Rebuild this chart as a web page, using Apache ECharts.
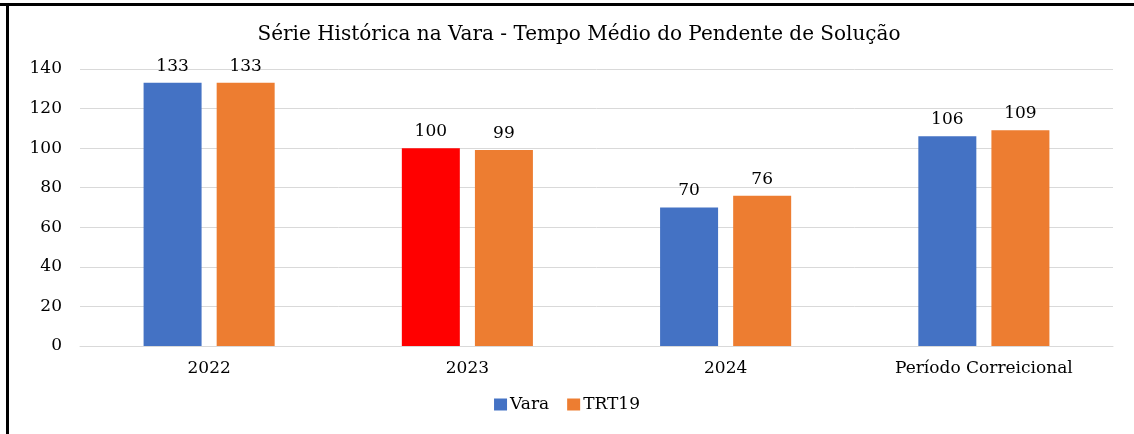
<!DOCTYPE html>
<html>
<head>
<meta charset="utf-8">
<script src="https://cdn.jsdelivr.net/npm/echarts@6/dist/echarts.min.js"></script>
<style>
  html, body { margin: 0; padding: 0; background: #fff; }
  #chart { width: 1134px; height: 434px; }
</style>
</head>
<body>
<div id="chart"></div>
<script>
// categories and values
const categories = ['2022', '2023', '2024', 'Período Correicional'];
const vara = [133, 100, 70, 106];
const trt19 = [133, 99, 76, 109];
const yTicks = [0, 20, 40, 60, 80, 100, 120, 140];

const blue = '#4472C4';
const orange = '#ED7D31';
const red = '#FF0000';
// the reference text is a wide serif
const serif = '"DejaVu Serif", "Liberation Serif", serif';

var dom = document.getElementById('chart');
var myChart = echarts.init(dom, null, { renderer: 'canvas' });

const labelStyle = {
    show: true,
    position: 'top',
    distance: 8,
    fontFamily: serif,
    fontSize: 17,
    color: '#000'
};

var option = {
    animation: false,
    backgroundColor: '#fff',
    title: {
        text: 'Série Histórica na Vara - Tempo Médio do Pendente de Solução',
        left: 574,
        textAlign: 'center',
        top: 20,
        textStyle: { fontFamily: serif, fontSize: 20, fontWeight: 'normal', color: '#000' }
    },
    legend: {
        bottom: 16,
        left: 'center',
        itemWidth: 13,
        itemHeight: 12,
        itemGap: 18,
        icon: 'rect',
        textStyle: { fontFamily: serif, fontSize: 17, color: '#000', padding: [0, 0, 0, -2] },
        data: [
            { name: 'Vara', itemStyle: { color: blue } },
            { name: 'TRT19', itemStyle: { color: orange } }
        ]
    },
    grid: { left: 80, right: 21, top: 69, bottom: 88, containLabel: false },
    xAxis: {
        type: 'category',
        data: categories,
        axisTick: { show: false },
        axisLine: { lineStyle: { color: '#d9d9d9' } },
        axisLabel: { fontFamily: serif, fontSize: 17, color: '#000', margin: 14 }
    },
    yAxis: {
        type: 'value',
        min: 0,
        max: yTicks[yTicks.length - 1],
        interval: 20,
        axisLine: { show: false },
        axisTick: { show: false },
        splitLine: { lineStyle: { color: '#d9d9d9' } },
        axisLabel: { fontFamily: serif, fontSize: 17, color: '#000', margin: 18 }
    },
    series: [
        {
            name: 'Vara',
            type: 'bar',
            barWidth: 58,
            barGap: '26%',
            itemStyle: { color: blue },
            label: labelStyle,
            data: vara.map((v, i) => i === 1 ? { value: v, itemStyle: { color: red } } : v)
        },
        {
            name: 'TRT19',
            type: 'bar',
            barWidth: 58,
            itemStyle: { color: orange },
            label: labelStyle,
            data: trt19
        }
    ],
    graphic: [
        { type: 'rect', shape: { x: 0, y: 3, width: 1134, height: 3 }, style: { fill: '#000' } },
        { type: 'rect', shape: { x: 6, y: 3, width: 3, height: 431 }, style: { fill: '#000' } }
    ]
};

myChart.setOption(option);
</script>
</body>
</html>
